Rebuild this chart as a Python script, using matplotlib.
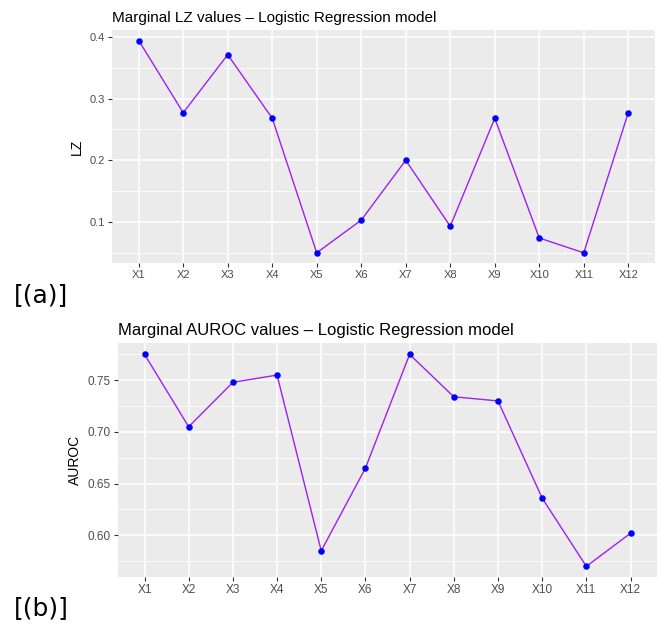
import matplotlib.pyplot as plt
import numpy as np

plt.rcParams["font.family"] = ["Liberation Sans", "DejaVu Sans"]

features = ["X1", "X2", "X3", "X4", "X5", "X6", "X7", "X8", "X9", "X10", "X11", "X12"]
lz_values = [0.394, 0.277, 0.371, 0.268, 0.050, 0.103, 0.200, 0.093, 0.268, 0.074, 0.050, 0.277]
auroc_values = [0.775, 0.705, 0.748, 0.755, 0.585, 0.665, 0.775, 0.734, 0.730, 0.636, 0.570, 0.602]

LZ_TICKS = [0.1, 0.2, 0.3, 0.4]
AUROC_TICKS = [0.60, 0.65, 0.70, 0.75]

BG = "#EBEBEB"
LINE = "#A020F0"
POINT = "#0000FF"


def panel(ax, values, yticks, ylim, ylabel, title, fmt, title_size, tick_size):
    x = np.arange(len(features))
    ax.set_facecolor(BG)
    for s in ax.spines.values():
        s.set_visible(False)
    ax.plot(x, values, color=LINE, lw=1.0, zorder=3)
    ax.scatter(x, values, color=POINT, s=22, zorder=4, linewidths=0)
    ax.set_xlim(-0.6, len(features) - 0.4)
    ax.set_ylim(*ylim)
    ax.set_xticks(x)
    ax.set_xticklabels(features)
    ax.set_yticks(yticks)
    ax.set_yticklabels([fmt.format(v) for v in yticks])
    step = yticks[1] - yticks[0]
    minor = np.arange(yticks[0] - step / 2, ylim[1], step)
    minor = [m for m in minor if ylim[0] < m < ylim[1]]
    ax.set_yticks(minor, minor=True)
    ax.grid(True, which="major", color="white", lw=1.1, zorder=0)
    ax.grid(True, which="minor", axis="y", color="white", lw=0.55, zorder=0)
    ax.set_axisbelow(True)
    ax.tick_params(which="major", length=3, width=0.8, color="#333333",
                   labelcolor="#4D4D4D", labelsize=tick_size, pad=2)
    ax.tick_params(which="minor", length=0)
    ax.set_ylabel(ylabel, fontsize=10, labelpad=4)
    ax.set_title(title, loc="left", fontsize=title_size, pad=6)


fig = plt.figure(figsize=(6.64, 6.28), dpi=100)
ax1 = fig.add_axes([0.1687, 0.5812, 0.8177, 0.3710])
ax2 = fig.add_axes([0.1777, 0.0812, 0.8118, 0.3726])

panel(ax1, lz_values, LZ_TICKS, (0.0335, 0.411), "LZ",
      "Marginal LZ values \u2013 Logistic Regression model", "{:.1f}", 11.0, 8)
panel(ax2, auroc_values, AUROC_TICKS, (0.5597, 0.786), "AUROC",
      "Marginal AUROC values \u2013 Logistic Regression model", "{:.2f}", 12.0, 8.5)

fig.text(0.021, 0.530, "[(a)]", fontsize=18, family="DejaVu Sans", va="center")
fig.text(0.021, 0.032, "[(b)]", fontsize=18, family="DejaVu Sans", va="center")

fig.savefig("out.png", dpi=100)
